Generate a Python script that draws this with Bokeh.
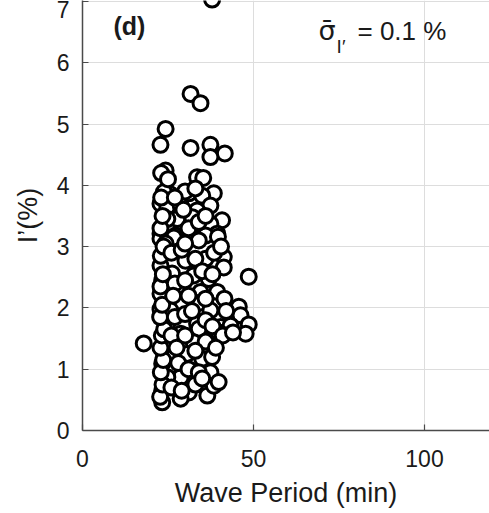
from bokeh.plotting import figure
from bokeh.models import Label, FixedTicker
from bokeh.embed import file_html
from bokeh.resources import INLINE

# Wave period (min) and I' (%)
period = [37.9, 31.6, 34.5, 24.3, 22.8, 31.6, 37.4, 41.6, 37.4, 24.3, 23.0, 33.5, 35.3,
          25.5, 23.8, 31.1, 38.4, 35.0, 22.8, 24.8, 28.7, 37.4, 33.5, 27.7, 32.1, 40.8,
          37.4, 24.8, 22.8, 27.2, 32.5, 39.4, 36.0, 26.7, 34.0, 39.6, 22.8, 24.3, 22.8,
          30.1, 36.0, 41.3, 41.3, 48.6, 26.2, 32.5, 36.9, 23.3, 28.2, 39.4, 34.5, 22.8,
          28.7, 34.5, 37.4, 45.7, 46.2, 22.8, 25.7, 24.8, 33.5, 48.6, 40.4, 43.3, 17.9,
          24.3, 28.7, 34.0, 39.9, 47.7, 32.5, 23.3, 35.0, 37.4, 28.7, 23.3, 31.1, 36.5,
          23.3, 28.7, 38.4, 39.8, 23.8, 26.7, 30.6, 24.8, 37.9,
          22.7, 23.4, 22.9, 23.6, 22.8, 23.2, 23.9, 22.7, 23.3, 22.8, 23.5, 22.9, 23.7,
          22.8, 23.4, 23.0,
          26.0, 29.0, 31.0, 30.0, 27.0, 30.0, 33.0, 35.0, 38.0, 26.5, 31.0, 36.0, 27.0,
          30.0, 32.0, 36.0, 38.0, 26.0, 30.0, 36.0, 27.5, 33.0, 28.0, 31.0, 34.0, 26.0,
          33.0, 29.0, 35.0, 29.5, 34.0, 36.0, 30.0, 33.0, 27.0, 25.0, 41.0, 39.0, 44.0,
          41.5, 38.5, 40.5, 42.0]
intensity = [7.03, 5.49, 5.34, 4.92, 4.66, 4.61, 4.66, 4.52, 4.46, 4.24, 4.20, 4.13, 4.12,
             3.86, 3.89, 3.87, 3.87, 3.83, 3.70, 3.65, 3.67, 3.67, 3.59, 3.45, 3.48, 3.43,
             3.37, 3.45, 3.21, 3.18, 3.15, 3.21, 3.18, 3.15, 3.10, 3.16, 3.13, 3.05, 2.69,
             2.77, 2.80, 2.83, 2.66, 2.51, 2.56, 2.53, 2.47, 2.45, 2.28, 2.26, 2.26, 2.23,
             2.09, 2.09, 1.96, 2.02, 1.88, 1.98, 1.96, 1.74, 1.74, 1.73, 1.69, 1.71, 1.42,
             1.46, 1.58, 1.66, 1.60, 1.58, 1.44, 1.09, 1.17, 0.95, 0.87, 0.65, 0.62, 0.57,
             0.46, 0.52, 0.73, 0.79, 1.25, 1.20, 1.25, 0.87, 1.20,
             0.55, 0.75, 0.95, 1.15, 1.35, 1.55, 1.65, 1.85, 2.05, 2.35, 2.55, 2.85, 3.00,
             3.30, 3.50, 3.80,
             2.90, 2.95, 3.30, 3.05, 2.40, 2.45, 2.80, 2.60, 2.55, 2.20, 2.20, 2.15, 1.85,
             1.90, 1.95, 1.80, 1.70, 1.55, 1.55, 1.45, 1.35, 1.30, 1.10, 1.00, 0.95, 0.70,
             0.75, 0.65, 0.85, 3.60, 3.40, 3.50, 3.90, 3.95, 3.80, 4.10, 1.55, 1.35, 1.60,
             2.15, 2.90, 3.00, 1.95]

x_ticks = [0, 50, 100]
y_ticks = [0, 1, 2, 3, 4, 5, 6, 7]
panel_tag = "(d)"
sigma_text = "\u03c3\u0304"
sigma_sub = "I\u2032"
sigma_value = "= 0.1 %"

FONT = "Liberation Sans"
TXT = "#1a1a1a"

p = figure(width=489, height=513, output_backend="svg", toolbar_location=None,
           x_range=(0, 119), y_range=(0, 7.015),
           min_border_left=82, min_border_right=0, min_border_top=0, min_border_bottom=83)
p.outline_line_color = None
p.background_fill_color = "white"

p.xaxis.ticker = FixedTicker(ticks=x_ticks)
p.yaxis.ticker = FixedTicker(ticks=y_ticks)
p.xaxis.axis_label = "Wave Period (min)"
p.yaxis.axis_label = "I\u2019(%)"

for ax in (p.xaxis, p.yaxis):
    ax.axis_line_color = "#4a4a4a"
    ax.axis_line_width = 1.5
    ax.major_tick_line_color = "#4a4a4a"
    ax.major_tick_line_width = 1.2
    ax.major_tick_in = 6
    ax.major_tick_out = 0
    ax.minor_tick_line_color = None
    ax.major_label_text_font = FONT
    ax.major_label_text_font_size = "23px"
    ax.major_label_text_color = TXT
    ax.axis_label_text_font = FONT
    ax.axis_label_text_font_size = "27px"
    ax.axis_label_text_font_style = "normal"
    ax.axis_label_text_color = TXT
p.xaxis.major_label_standoff = 19
p.yaxis.major_label_standoff = 13
p.xaxis.axis_label_standoff = 8
p.yaxis.axis_label_standoff = 11

p.grid.grid_line_color = "#dddddd"
p.grid.grid_line_width = 1

p.scatter(period, intensity, size=15, marker="circle", fill_color="white",
          line_color="black", line_width=3)

p.add_layout(Label(x=9.06, y=6.37, text=panel_tag, text_font=FONT, text_font_size="25px",
                   text_font_style="bold", text_color=TXT))
p.add_layout(Label(x=69.0, y=6.28, text=sigma_text, text_font="DejaVu Sans", text_font_size="27px",
                   text_color=TXT))
p.add_layout(Label(x=74.3, y=6.10, text=sigma_sub, text_font=FONT, text_font_size="19px",
                   text_color=TXT))
p.add_layout(Label(x=80.4, y=6.28, text=sigma_value, text_font=FONT, text_font_size="26px",
                   text_color=TXT))

open("out.html", "w").write(file_html(p, INLINE))
